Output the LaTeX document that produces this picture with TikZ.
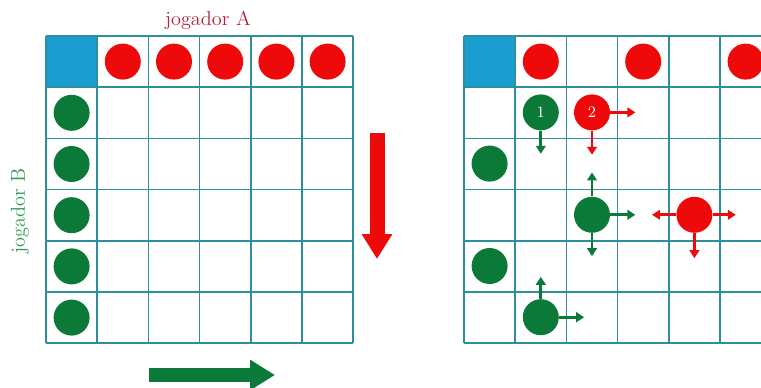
\documentclass[tikz,border=0pt]{standalone}
\usepackage{tikz}
\usetikzlibrary{arrows.meta,positioning}
\definecolor{gridTeal}{HTML}{2E8F9C}
\definecolor{cornerBlue}{HTML}{1A9ED0}
\definecolor{pieceRed}{HTML}{EE0A0A}
\definecolor{pieceGreen}{HTML}{0B7A38}
\definecolor{labelRed}{HTML}{B3213A}
\definecolor{labelGreen}{HTML}{2E9A50}

\begin{document}
\begin{tikzpicture}[
    x=0.02cm, y=-0.02cm,
    cell/.style={draw=gridTeal, line width=0.9pt},
    corner/.style={fill=cornerBlue},
    redpiece/.style={circle, fill=pieceRed, minimum size=0.72cm, inner sep=0pt, text=white, font=\small},
    greenpiece/.style={circle, fill=pieceGreen, minimum size=0.72cm, inner sep=0pt, text=white, font=\small},
    move/.style={line width=1.6pt, -{Triangle[length=4.5pt,width=5.5pt]}},
    bigarrow/.style={line width=0.3cm, -{Triangle[length=0.5cm,width=0.58cm]}},
    player/.style={font=\fontsize{11.5}{14}\selectfont}
]
\useasboundingbox (0,0) rectangle (761,388);
\clip (0,0) rectangle (761,388);

% left board
\fill[corner] (46,36) rectangle ++(51.2,51.2);
\foreach \i in {0,...,6} {
  \draw[cell] (46+51.2*\i,36) -- (46+51.2*\i,343.2);
  \draw[cell] (46,36+51.2*\i) -- (353.2,36+51.2*\i);
}
\foreach \i in {1,...,5} {
  \node[redpiece] (redL\i) at (71.6+51.2*\i,61.6) {};
  \node[greenpiece] (greenL\i) at (71.6,61.6+51.2*\i) {};
}

\node[player, text=labelRed] (playerA) at (208,20) {jogador A};
\node[player, text=labelGreen, rotate=90] (playerB) at (20,211) {jogador B};

% direction arrows
\coordinate (redStart) at (377,133);
\coordinate (redEnd) at (377,259);
\draw[bigarrow, pieceRed] (redStart) -- (redEnd);
\coordinate (greenStart) at (149,375);
\coordinate (greenEnd) at (275,375);
\draw[bigarrow, pieceGreen] (greenStart) -- (greenEnd);

% right board
\fill[corner] (464,36) rectangle ++(51.2,51.2);
\foreach \i in {0,...,6} {
  \draw[cell] (464+51.2*\i,36) -- (464+51.2*\i,343.2);
  \draw[cell] (464,36+51.2*\i) -- (771.2,36+51.2*\i);
}
\foreach \i in {1,3,5}
  \node[redpiece] (redR\i) at (489.6+51.2*\i,61.6) {};

\node[greenpiece] (gOne) at (540.8,112.4) {1};
\node[redpiece] (rTwo) at (592,112.4) {2};
\node[greenpiece] (gB) at (489.6,163.6) {};
\node[greenpiece] (gC) at (592,214.8) {};
\node[redpiece] (rC) at (694.4,214.8) {};
\node[greenpiece] (gD) at (489.6,266) {};
\node[greenpiece] (gE) at (540.8,317.2) {};

\coordinate[below=0.46cm of gOne] (gOneDown);
\coordinate[right=0.5cm of rTwo] (rTwoRight);
\coordinate[below=0.48cm of rTwo] (rTwoDown);
\coordinate[above=0.48cm of gC] (gCUp);
\coordinate[right=0.5cm of gC] (gCRight);
\coordinate[below=0.46cm of gC] (gCDown);
\coordinate[left=0.48cm of rC] (rCLeft);
\coordinate[right=0.46cm of rC] (rCRight);
\coordinate[below=0.5cm of rC] (rCDown);
\coordinate[above=0.44cm of gE] (gEUp);
\coordinate[right=0.5cm of gE] (gERight);

\draw[move, pieceGreen] (gOne) -- (gOneDown);
\draw[move, pieceRed] (rTwo) -- (rTwoRight);
\draw[move, pieceRed] (rTwo) -- (rTwoDown);
\draw[move, pieceGreen] (gC) -- (gCUp);
\draw[move, pieceGreen] (gC) -- (gCRight);
\draw[move, pieceGreen] (gC) -- (gCDown);
\draw[move, pieceRed] (rC) -- (rCLeft);
\draw[move, pieceRed] (rC) -- (rCRight);
\draw[move, pieceRed] (rC) -- (rCDown);
\draw[move, pieceGreen] (gE) -- (gEUp);
\draw[move, pieceGreen] (gE) -- (gERight);

\end{tikzpicture}
\end{document}
